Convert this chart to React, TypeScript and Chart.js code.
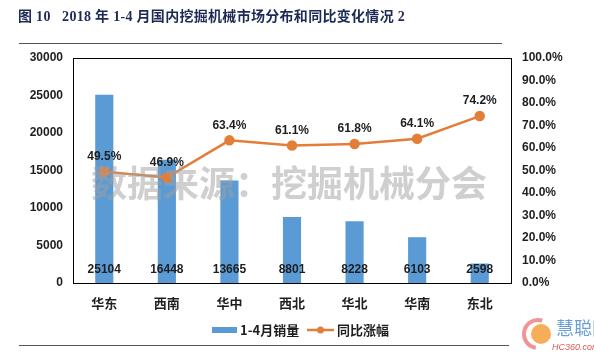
import React, { useEffect, useRef } from "react";
import { Chart, registerables } from "chart.js";

Chart.register(...registerables);

const categories = ["华东", "西南", "华中", "西北", "华北", "华南", "东北"];
const sales = [25104, 16448, 13665, 8801, 8228, 6103, 2598];
const growth = [49.5, 46.9, 63.4, 61.1, 61.8, 64.1, 74.2];
const seriesNames = ["1-4月销量", "同比涨幅"];
const titleText = "图 10   2018 年 1-4 月国内挖掘机械市场分布和同比变化情况 2";
const watermarkText = "数据来源：挖掘机械分会";

const BAR_COLOR = "#5B9BD5";
const LINE_COLOR = "#E47D38";
const TEXT_COLOR = "#1e1e1e";

const overlayPlugin = {
  id: "overlay",
  afterDatasetsDraw(chart: any) {
    const { ctx, chartArea: a } = chart;
    ctx.save();
    // watermark
    ctx.font = 'bold 36px "Noto Sans CJK SC"';
    ctx.fillStyle = "rgba(160,160,160,0.5)";
    ctx.textAlign = "left";
    ctx.textBaseline = "middle";
    ctx.fillText(watermarkText, a.left + 18, a.top + 125);

    ctx.font = 'bold 12px "Liberation Sans", Arial';
    ctx.fillStyle = TEXT_COLOR;
    ctx.textAlign = "center";
    const barMeta = chart.getDatasetMeta(0);
    barMeta.data.forEach((el: any, i: number) => {
      ctx.fillText(String(sales[i]), el.x, a.bottom - 13);
    });
    const lineMeta = chart.getDatasetMeta(1);
    lineMeta.data.forEach((el: any, i: number) => {
      ctx.fillText(growth[i].toFixed(1) + "%", el.x, el.y - 15);
    });

    ctx.strokeStyle = "#000";
    ctx.lineWidth = 1;
    ctx.strokeRect(Math.round(a.left) + 0.5, Math.round(a.top) + 0.5, Math.round(a.right - a.left), Math.round(a.bottom - a.top));
    ctx.restore();
  },
  afterDraw(chart: any) {
    const { ctx } = chart;
    ctx.save();
    // legend
    const ly = 330;
    ctx.fillStyle = BAR_COLOR;
    ctx.fillRect(212, ly - 3, 25, 6);
    ctx.font = 'bold 13px "Noto Sans CJK SC"';
    ctx.fillStyle = TEXT_COLOR;
    ctx.textAlign = "left";
    ctx.textBaseline = "middle";
    ctx.fillText(seriesNames[0], 240, ly);
    ctx.strokeStyle = LINE_COLOR;
    ctx.lineWidth = 2.5;
    ctx.beginPath();
    ctx.moveTo(307, ly);
    ctx.lineTo(334, ly);
    ctx.stroke();
    ctx.fillStyle = LINE_COLOR;
    ctx.beginPath();
    ctx.arc(320.5, ly, 3.5, 0, Math.PI * 2);
    ctx.fill();
    ctx.fillStyle = TEXT_COLOR;
    ctx.fillText(seriesNames[1], 337, ly);

    // logo watermark bottom-right
    ctx.strokeStyle = "rgba(230,60,60,0.55)";
    ctx.lineWidth = 4;
    ctx.beginPath();
    ctx.arc(538, 334, 14, Math.PI * 0.55, Math.PI * 1.6);
    ctx.stroke();
    ctx.fillStyle = "rgba(245,160,60,0.85)";
    ctx.beginPath();
    ctx.arc(541, 334, 10, 0, Math.PI * 2);
    ctx.fill();
    ctx.font = '18px "Noto Sans CJK SC"';
    ctx.fillStyle = "rgba(90,150,210,0.9)";
    ctx.fillText("慧聪网", 556, 328);
    ctx.font = 'italic 9px "Liberation Sans", Arial';
    ctx.fillStyle = "rgba(220,70,70,0.9)";
    ctx.fillText("HC360.com", 552, 347);
    ctx.restore();
  },
};

export default function App() {
  const ref = useRef<HTMLCanvasElement | null>(null);

  useEffect(() => {
    if (!ref.current) return;
    const tickFont = { family: '"Liberation Sans", Arial', size: 12, weight: "bold" as const };
    const chart = new Chart(ref.current, {
      type: "bar",
      data: {
        labels: categories,
        datasets: [
          {
            type: "bar",
            label: seriesNames[0],
            data: sales,
            backgroundColor: BAR_COLOR,
            barPercentage: 0.29,
            categoryPercentage: 1,
            yAxisID: "y",
            order: 2,
          },
          {
            type: "line",
            label: seriesNames[1],
            data: growth,
            borderColor: LINE_COLOR,
            backgroundColor: LINE_COLOR,
            borderWidth: 2.5,
            pointRadius: 4,
            pointBackgroundColor: LINE_COLOR,
            pointBorderColor: LINE_COLOR,
            yAxisID: "y1",
            order: 1,
          } as any,
        ],
      },
      options: {
        animation: false,
        responsive: false,
        maintainAspectRatio: false,
        layout: { padding: { top: 58, left: 0, right: 0, bottom: 0 } },
        plugins: { legend: { display: false }, tooltip: { enabled: false } },
        scales: {
          x: {
            grid: { display: false, drawTicks: false },
            border: { display: false },
            ticks: {
              padding: 12,
              color: TEXT_COLOR,
              font: { family: '"Noto Sans CJK SC"', size: 13, weight: "bold" },
            },
            afterFit: (s: any) => {
              s.height = 74;
            },
          },
          y: {
            position: "left",
            min: 0,
            max: 30000,
            grid: { display: false, drawTicks: false },
            border: { display: false },
            ticks: {
              stepSize: 5000,
              padding: 10,
              color: TEXT_COLOR,
              font: tickFont,
              callback: (v: any) => String(v),
            },
            afterFit: (s: any) => {
              s.width = 73;
            },
          },
          y1: {
            position: "right",
            min: 0,
            max: 100,
            grid: { display: false, drawTicks: false },
            border: { display: false },
            ticks: {
              stepSize: 10,
              padding: 11,
              color: TEXT_COLOR,
              font: tickFont,
              callback: (v: any) => Number(v).toFixed(1) + "%",
            },
            afterFit: (s: any) => {
              s.width = 83;
            },
          },
        },
      },
      plugins: [overlayPlugin],
    });
    return () => chart.destroy();
  }, []);

  return (
    <div style={{ position: "fixed", left: 0, top: 0, width: 594, height: 357, background: "#fff", overflow: "hidden" }}>
      <canvas ref={ref} width={594} height={357} style={{ position: "absolute", left: 0, top: 0, width: 594, height: 357 }} />
      <div
        style={{
          position: "absolute",
          left: 18,
          top: 7,
          fontFamily: '"Liberation Serif", "Noto Sans CJK SC", serif',
          fontWeight: "bold",
          fontSize: 14,
          letterSpacing: 0.3,
          color: "#1d2a55",
          whiteSpace: "pre",
          lineHeight: "20px",
        }}
      >
        {titleText}
      </div>
      <div style={{ position: "absolute", left: 19, top: 43, width: 483, height: 1, background: "#555" }} />
      <div style={{ position: "absolute", left: 19, top: 345, width: 490, height: 1, background: "#555" }} />
    </div>
  );
}
